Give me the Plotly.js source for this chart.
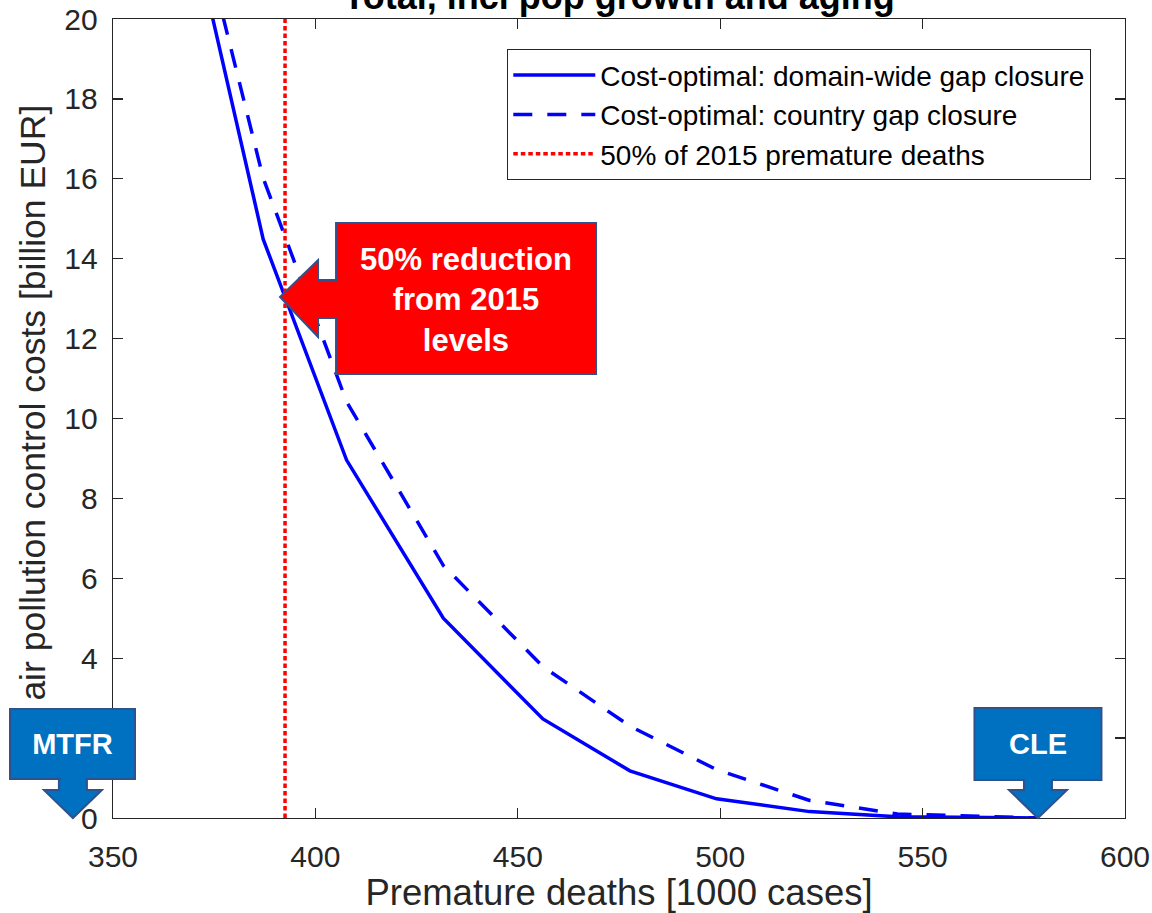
<!DOCTYPE html>
<html>
<head>
<meta charset="utf-8">
<script src="https://cdn.plot.ly/plotly-3.0.1.min.js"></script>
<style>
  html, body { margin: 0; padding: 0; background: #ffffff; }
  #chart { width: 1152px; height: 913px; }
</style>
</head>
<body>
<div id="chart"></div>
<script>
// Premature deaths [1000 cases] at each step of the cost curves
const deaths = [367, 387.1, 407.7, 431.6, 456.2, 477.7, 499.1, 522.1, 543.8, 578.5];
// Additional air pollution control costs [billion EUR]
const costDomainWide = [23.4, 14.49, 8.96, 5.0, 2.48, 1.18, 0.48, 0.16, 0.03, 0];
const costCountry = [24.2, 16.02, 10.42, 6.32, 3.79, 2.30, 1.21, 0.44, 0.10, 0];

// Reference levels [1000 cases]
const halfOf2015Deaths = 392.5;
const mtfrDeaths = 340.1;
const cleDeaths = 578.5;

// Axis ticks
const xTicks = [350, 400, 450, 500, 550, 600];
const yTicks = [0, 2, 4, 6, 8, 10, 12, 14, 16, 18, 20];

const X_RANGE = [350, 600];
const Y_RANGE = [0, 20];

const FONT = 'Liberation Sans, Arial, Helvetica, sans-serif';
const AXIS_COLOR = '#262626';
const BOX_BLUE = '#0070C0';
const OUTLINE = '#2F528F';

// paper fractions along the axes
const fx = v => (v - X_RANGE[0]) / (X_RANGE[1] - X_RANGE[0]);
const fy = v => (v - Y_RANGE[0]) / (Y_RANGE[1] - Y_RANGE[0]);

// cost of the domain-wide curve where it crosses the 50% level
function costAt(xs, ys, x) {
  for (let i = 0; i < xs.length - 1; i++) {
    if (x >= xs[i] && x <= xs[i + 1]) {
      const t = (x - xs[i]) / (xs[i + 1] - xs[i]);
      return ys[i] + t * (ys[i + 1] - ys[i]);
    }
  }
  return ys[ys.length - 1];
}
const crossCost = costAt(deaths, costDomainWide, halfOf2015Deaths);

const traces = [
  {
    x: deaths, y: costDomainWide, type: 'scatter', mode: 'lines',
    name: 'Cost-optimal: domain-wide gap closure',
    line: { color: '#0000FF', width: 3.5 }
  },
  {
    x: deaths, y: costCountry, type: 'scatter', mode: 'lines',
    name: 'Cost-optimal: country gap closure',
    line: { color: '#0000FF', width: 3.5, dash: '19px,15px' }
  },
  {
    x: [halfOf2015Deaths, halfOf2015Deaths], y: Y_RANGE, type: 'scatter', mode: 'lines',
    name: '50% of 2015 premature deaths',
    line: { color: '#FF0000', width: 3.5, dash: '4.5px,3px' }
  }
];

const axisCommon = {
  showgrid: false, zeroline: false,
  showline: true, linecolor: AXIS_COLOR, linewidth: 1.3,
  mirror: 'ticks', ticks: 'inside', ticklen: 10, tickwidth: 1.3, tickcolor: AXIS_COLOR,
  tickfont: { family: FONT, size: 30, color: AXIS_COLOR },
  fixedrange: true
};

// down-pointing callout below a box, tip at (0,0), y upward in px
const downArrowStem = 'M-14,40 L-14,28 L-29,28 L0,0 L29,28 L14,28 L14,40 Z';
const downArrowBox = 'M0,0 L29,28 L14,28 L14,38 L63.5,38 L63.5,110 L-63.5,110 L-63.5,38 L-14,38 L-14,28 L-29,28 Z';
// left-pointing callout, anchored at the crossing point
const leftArrowBox = 'M-5,0 L33,37 L33,17 L51,17 L51,74 L311,74 L311,-77 L51,-77 L51,-21 L33,-21 L33,-40 Z';

const shapes = [
  {
    type: 'path', xref: 'paper', yref: 'paper', xsizemode: 'pixel', ysizemode: 'pixel',
    xanchor: fx(mtfrDeaths), yanchor: 0, path: downArrowStem,
    fillcolor: BOX_BLUE, line: { color: OUTLINE, width: 2 }, layer: 'above'
  },
  {
    type: 'path', xref: 'paper', yref: 'paper', xsizemode: 'pixel', ysizemode: 'pixel',
    xanchor: fx(cleDeaths), yanchor: 0, path: downArrowBox,
    fillcolor: BOX_BLUE, line: { color: OUTLINE, width: 2 }, layer: 'above'
  },
  {
    type: 'path', xref: 'paper', yref: 'paper', xsizemode: 'pixel', ysizemode: 'pixel',
    xanchor: fx(halfOf2015Deaths), yanchor: fy(crossCost), path: leftArrowBox,
    fillcolor: '#FF0000', line: { color: OUTLINE, width: 2 }, layer: 'above'
  }
];

const calloutFont = { family: FONT, size: 29, color: '#FFFFFF', weight: 'bold' };

const annotations = [
  // MTFR box sits above the axis title
  {
    xref: 'paper', yref: 'paper', x: fx(mtfrDeaths), y: 0, xanchor: 'center', yanchor: 'bottom',
    yshift: 38, showarrow: false, text: 'MTFR', font: calloutFont,
    width: 123, height: 68, bgcolor: BOX_BLUE, bordercolor: OUTLINE, borderwidth: 2, borderpad: 0
  },
  // joins the MTFR box with its arrow stem
  {
    xref: 'paper', yref: 'paper', x: fx(mtfrDeaths), y: 0, xanchor: 'center', yanchor: 'middle',
    yshift: 38, showarrow: false, text: ' ', font: { size: 1 },
    width: 24, height: 5, bgcolor: BOX_BLUE, borderwidth: 0, borderpad: 0
  },
  {
    xref: 'paper', yref: 'paper', x: fx(cleDeaths), y: 0, xanchor: 'center', yanchor: 'middle',
    yshift: 74, showarrow: false, text: 'CLE', font: calloutFont
  },
  {
    xref: 'paper', yref: 'paper', x: fx(halfOf2015Deaths), y: fy(crossCost),
    xanchor: 'center', yanchor: 'middle', xshift: 181, yshift: -3, showarrow: false,
    text: '50% reduction<br>from 2015<br>levels',
    font: { family: FONT, size: 31, color: '#FFFFFF', weight: 'bold' }
  }
];

const layout = {
  width: 1152, height: 913,
  margin: { l: 113, r: 27, t: 19, b: 95, pad: 0 },
  paper_bgcolor: '#FFFFFF', plot_bgcolor: '#FFFFFF',
  font: { family: FONT, color: AXIS_COLOR },
  title: {
    text: 'Total, incl pop growth and aging',
    font: { family: FONT, size: 36, color: '#000000', weight: 'bold' },
    x: 0.5, xref: 'paper', xanchor: 'center',
    y: 1, yref: 'paper', yanchor: 'bottom', pad: { b: 10 }
  },
  xaxis: Object.assign({}, axisCommon, {
    range: X_RANGE, tickmode: 'array', tickvals: xTicks, ticktext: xTicks.map(String),
    ticklabelstandoff: 12,
    title: {
      text: 'Premature deaths [1000 cases]',
      font: { family: FONT, size: 36.5, color: AXIS_COLOR }, standoff: 5
    }
  }),
  yaxis: Object.assign({}, axisCommon, {
    range: Y_RANGE, tickmode: 'array', tickvals: yTicks, ticktext: yTicks.map(String),
    ticklabelstandoff: 8,
    title: {
      text: 'Δ air pollution control costs [billion EUR]',
      font: { family: FONT, size: 35.5, color: AXIS_COLOR }, standoff: 8
    }
  }),
  showlegend: true,
  legend: {
    x: (507 - 113) / 1012, y: (818 - 49) / 799,
    xanchor: 'left', yanchor: 'top',
    bgcolor: '#FFFFFF', bordercolor: AXIS_COLOR, borderwidth: 1.3,
    font: { family: FONT, size: 28, color: '#000000' },
    itemwidth: 82, tracegroupgap: 0
  },
  shapes: shapes,
  annotations: annotations
};

Plotly.newPlot('chart', traces, layout, { staticPlot: true, displayModeBar: false });
</script>
</body>
</html>
